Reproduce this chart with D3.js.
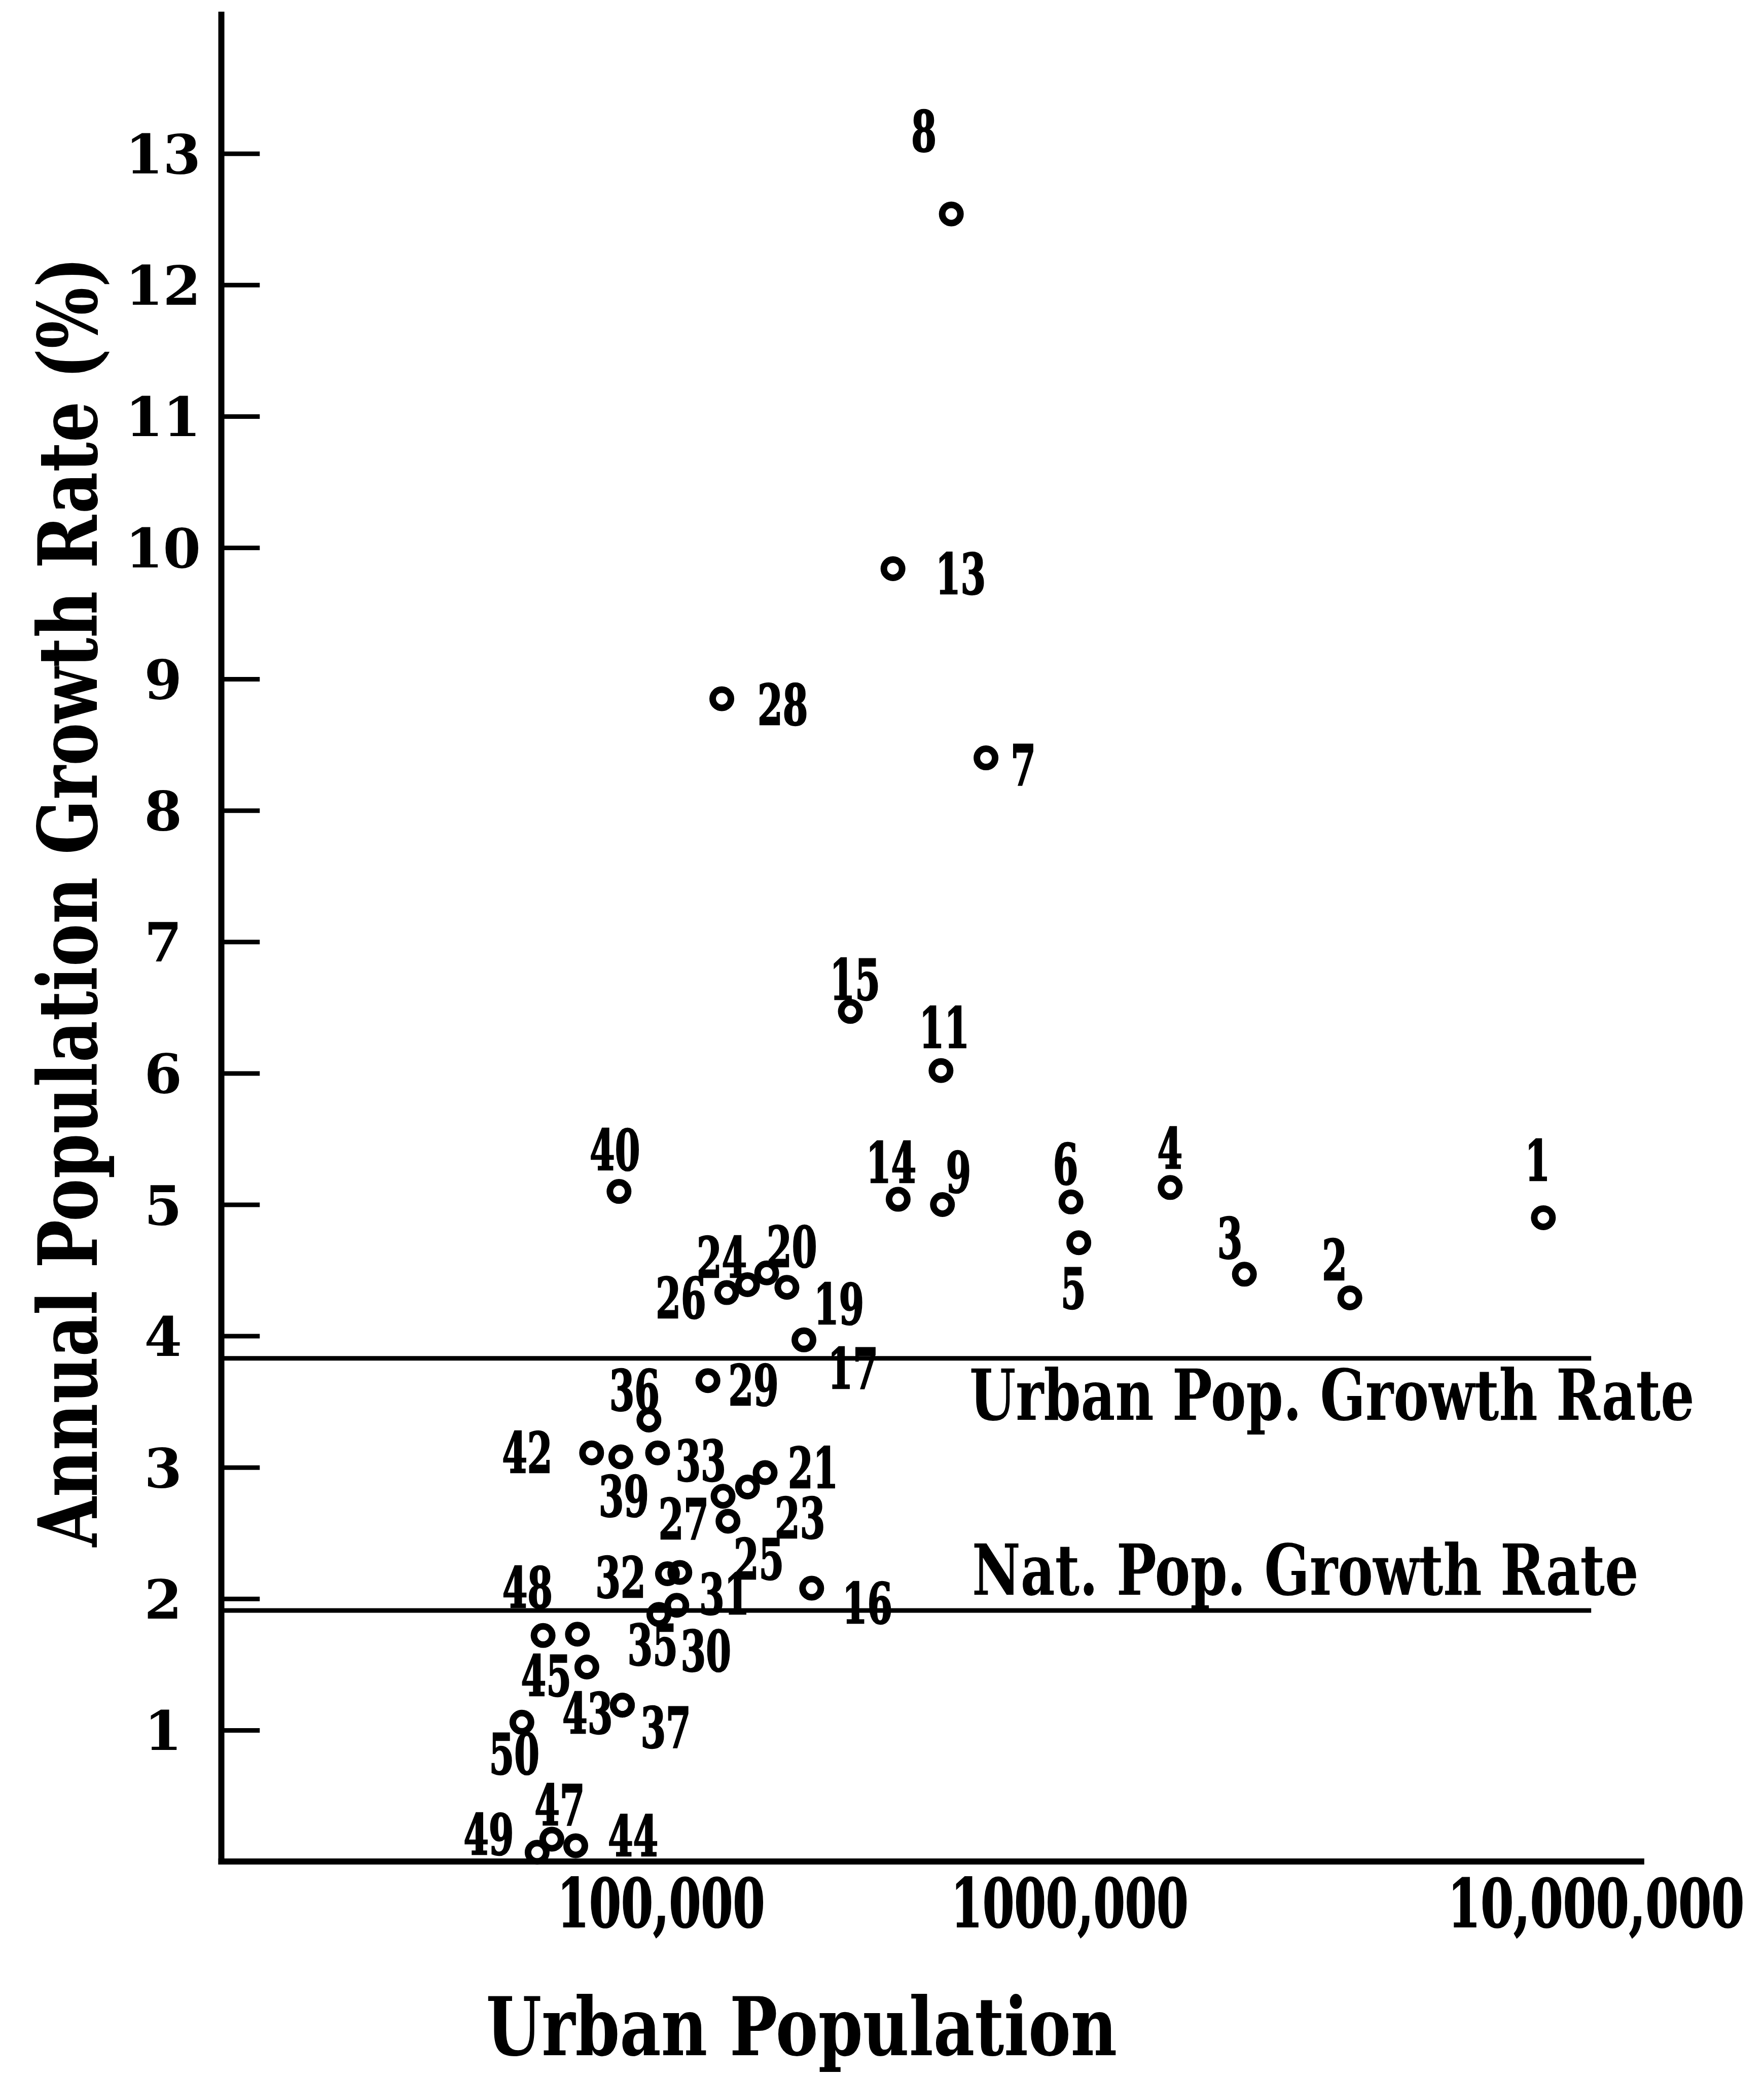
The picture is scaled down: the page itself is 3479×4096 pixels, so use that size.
<!DOCTYPE html>
<html>
<head>
<meta charset="utf-8">
<script src="https://cdn.jsdelivr.net/npm/d3@7/dist/d3.min.js"></script>
<style>
  html, body { margin: 0; padding: 0; background: #fff; }
  svg { display: block; }
  .serif { font-family: 'DejaVu Serif', serif; font-weight: bold; }
  .typer { font-family: 'DejaVu Serif Condensed', 'DejaVu Serif', serif; font-stretch: condensed; font-weight: bold; }
</style>
</head>
<body>
<svg id="chart" width="3479" height="4096"></svg>
<script>
// city number, urban population and annual growth rate (%)
var cityIds = [1, 2, 3, 4, 5, 6, 7, 8, 9, 11, 13, 14, 15, 16, 17, 19, 20, 21, 23, 24, 25,
               26, 27, 28, 29, 30, 31, 32, 33, 35, 36, 37, 39, 40, 42, 43, 44, 45, 46, 47, 48, 49, 50];
var urbanPop = [7950000, 3410000, 2150000, 1554000, 1042000, 1007000, 625000, 514000, 489000, 485000,
                370000, 381000, 291000, 234000, 224000, 203500, 181600, 180000, 163000, 163000, 142000,
                145000, 146000, 141000, 130400, 109400, 111300, 103800, 98200, 98900, 93500, 80500,
                79800, 79000, 67700, 80500, 61900, 65900, 62500, 54100, 51500, 49800, 45700];
var growthRate = [4.90, 4.29, 4.47, 5.13, 4.71, 5.02, 8.40, 12.54, 5.00, 6.02,
                  9.84, 5.04, 6.47, 2.08, 3.97, 4.37, 4.48, 2.96, 2.85, 4.39, 2.78,
                  4.33, 2.59, 8.85, 3.66, 1.95, 2.20, 2.19, 3.11, 1.88, 3.36, 1.19,
                  3.08, 5.10, 3.11, 1.19, 0.12, 1.48, 1.73, 0.17, 1.72, 0.07, 1.06];

var urbanRate = 3.83;     // Urban Pop. Growth Rate
var nationalRate = 1.91;  // Nat. Pop. Growth Rate

var xTickValues = [100000, 1000000, 10000000];
var xTickLabels = ["100,000", "1000,000", "10,000,000"];
var yTickValues = [1, 2, 3, 4, 5, 6, 7, 8, 9, 10, 11, 12, 13];

// where each number sits against its circle (reference px, 1332-wide copy); null = no number
var labelDx = [-4.4, -11.5, -11, -0.2, -4.1, -4.1, 28.1, -20.7, 12.1, 2.5,
               51.1, -5.3, 3.5, 42, 37, 39.3, 19, 36.2, 39.6, -19.4, 27,
               -34.6, -33.5, 46, 34.4, 22, 33.6, -35.4, 32.6, -4.7, -10.9, 32.8,
               2.3, -3.1, -48.6, -26.3, 43.3, -30.7, null, 5.9, -11.8, -36.6, -5.8];
var labelDy = [-43.7, -29.2, -27.6, -30, 34, -29, 4.8, -62.9, -24.7, -32.8,
               3.3, -28.2, -24.6, 11, 21, 12.3, -20, -4, 23, -21.1, 47,
               3.6, -2, 4, 2.9, 34, 16, 2.4, 5.4, 22.5, -22.8, 16.4,
               29.2, -31.8, -0.6, 5.8, -7.9, 6.3, null, -26.3, -36.5, -13.8, 23.3];

var K = 3479 / 1332;            // reference px -> page px
var xStart = 8400, xAxisEnd = 12360000, refLineEnd = 9800000, yTop = 14.08;

var svg = d3.select("#chart");

// squeeze a text horizontally to a given width (the reference type is condensed)
function squeeze(sel, width, tx, ty, rot) {
    sel.each(function(d, i) {
        var w = typeof width === "function" ? width(d, i) : width;
        var px = typeof tx === "function" ? tx(d, i) : tx;
        var py = typeof ty === "function" ? ty(d, i) : ty;
        var s = w / this.getComputedTextLength();
        d3.select(this).attr("x", 0).attr("y", 0)
            .attr("transform", "translate(" + px + "," + py + ")" +
                  (rot ? " rotate(" + rot + ")" : "") + " scale(" + s + ",1)");
    });
}

// the printed decades are not evenly spaced, so the log scale is piecewise
var x = d3.scaleLog()
    .domain(xTickValues)
    .range([499 * K, 807.5 * K, 1205 * K]);
var y = d3.scaleLinear()
    .domain([0, 13])
    .range([1405.5 * K, 115.9 * K]);

var x0 = x(xStart);

// y axis
var yAxis = svg.append("g")
    .attr("transform", "translate(" + x0 + ",0)")
    .call(d3.axisLeft(y).tickValues(yTickValues).tickSizeInner(-29 * K).tickSizeOuter(0));
yAxis.select(".domain").remove();
yAxis.selectAll(".tick line").attr("stroke", "#000").attr("stroke-width", 9);
yAxis.selectAll(".tick text")
    .attr("class", "serif")
    .attr("x", (123 - 167) * K)
    .attr("dy", "0.36em")
    .attr("text-anchor", "middle")
    .attr("font-size", 107)
    .attr("fill", "#000");
svg.append("line")
    .attr("x1", x0).attr("x2", x0)
    .attr("y1", y(yTop)).attr("y2", y(0) + 6)
    .attr("stroke", "#000").attr("stroke-width", 12);

// x axis
var xAxis = svg.append("g")
    .attr("transform", "translate(0," + y(0) + ")")
    .call(d3.axisBottom(x).tickValues(xTickValues).tickSize(0)
        .tickFormat(function(d, i) { return xTickLabels[i]; }));
xAxis.select(".domain").remove();
xAxis.selectAll(".tick text")
    .attr("class", "typer")
    .attr("dy", 0)
    .attr("font-size", 132)
    .attr("fill", "#000")
    .attr("stroke", "#000").attr("stroke-width", 2)
    .call(squeeze, function(d, i) { return xTickLabels[i].length * 22.4 * K; }, 0, (1455 - 1405.5) * K);
svg.append("line")
    .attr("x1", x0 - 6).attr("x2", x(xAxisEnd))
    .attr("y1", y(0)).attr("y2", y(0))
    .attr("stroke", "#000").attr("stroke-width", 12);

// reference growth lines
[urbanRate, nationalRate].forEach(function(r) {
    svg.append("line")
        .attr("x1", x0).attr("x2", x(refLineEnd))
        .attr("y1", y(r)).attr("y2", y(r))
        .attr("stroke", "#000").attr("stroke-width", 9);
});
svg.append("text").attr("class", "typer")
    .attr("font-size", 139)
    .text("Urban Pop. Growth Rate")
    .call(squeeze, 547.4 * K, 732 * K, y(urbanRate) + 46.4 * K);
svg.append("text").attr("class", "typer")
    .attr("font-size", 139)
    .text("Nat. Pop. Growth Rate")
    .call(squeeze, 503.3 * K, 734 * K, y(nationalRate) - 12 * K);

// axis titles
svg.append("text").attr("class", "typer")
    .attr("font-size", 159)
    .text("Urban Population")
    .call(squeeze, 476.6 * K, 367 * K, 1551.6 * K);
svg.append("text").attr("class", "serif")
    .attr("text-anchor", "middle")
    .attr("font-size", 162)
    .text("Annual Population Growth Rate (%)")
    .call(squeeze, 974 * K, 73 * K, 681 * K, -90);

// cities
var idx = d3.range(cityIds.length);
svg.append("g").selectAll("circle")
    .data(idx).join("circle")
    .attr("cx", function(i) { return x(urbanPop[i]); })
    .attr("cy", function(i) { return y(growthRate[i]); })
    .attr("r", 18)
    .attr("fill", "none")
    .attr("stroke", "#000")
    .attr("stroke-width", 13);

var labelSize = 111;
svg.append("g").selectAll("text")
    .data(idx.filter(function(i) { return labelDx[i] !== null; })).join("text")
    .attr("class", "typer")
    .attr("font-size", labelSize)
    .attr("text-anchor", "middle")
    .attr("stroke", "#000").attr("stroke-width", 2.5)
    .text(function(i) { return cityIds[i]; })
    .call(squeeze,
          function(i) { return String(cityIds[i]).length * 19 * K; },
          function(i) { return x(urbanPop[i]) + labelDx[i] * K; },
          function(i) { return y(growthRate[i]) + labelDy[i] * K + 0.3645 * labelSize; });
</script>
</body>
</html>
